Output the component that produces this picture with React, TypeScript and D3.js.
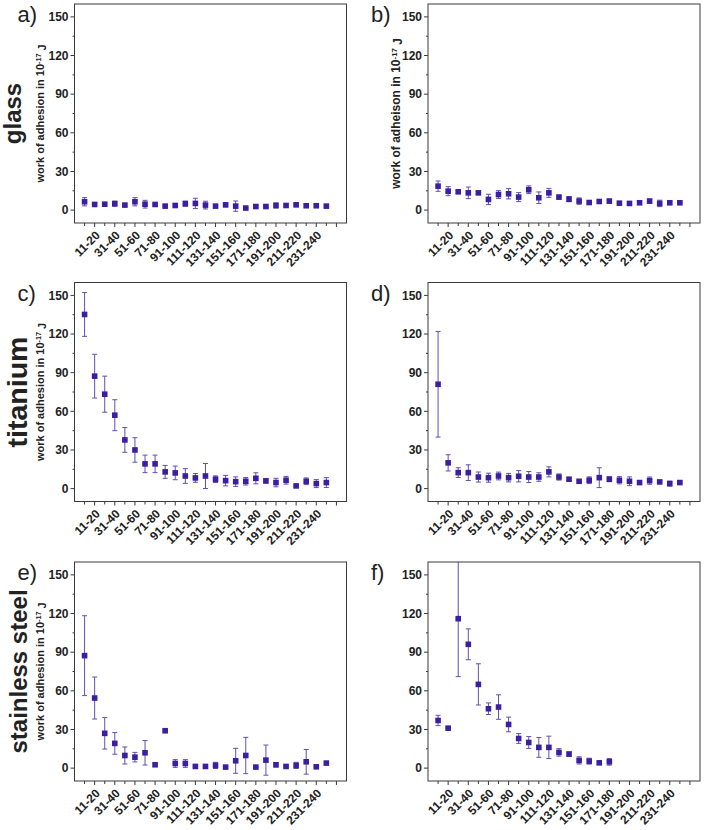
import React from "react";
import * as d3 from "d3";

const categories = [
  "1-10", "11-20", "21-30", "31-40", "41-50", "51-60", "61-70", "71-80", "81-90", "91-100",
  "101-110", "111-120", "121-130", "131-140", "141-150", "151-160", "161-170", "171-180",
  "181-190", "191-200", "201-210", "211-220", "221-230", "231-240", "241-250",
];
const yTicks = [0, 30, 60, 90, 120, 150];
const yMinorTicks = [15, 45, 75, 105, 135];

const glassVal = [6.5, 4.4, 4.6, 5.0, 3.9, 6.5, 4.6, 4.4, 3.1, 3.6, 5.0, 5.2, 3.9, 3.1, 4.1, 3.1, 1.6, 2.8, 2.8, 3.6, 3.6, 4.1, 3.4, 3.4, 3.1];
const glassErr = [3.2, 1, 1.2, 2, 1, 3.2, 3, 1, 0.8, 1, 2, 4, 3, 1, 1.5, 4, 0.5, 0.8, 0.8, 2, 1, 1, 1, 1, 1];

const glassBVal = [18.6, 14.7, 14.2, 13.4, 13.4, 8.3, 12.1, 12.7, 10.1, 15.8, 9.6, 13.4, 10.1, 8.5, 7.0, 5.9, 6.7, 7.0, 5.4, 5.2, 5.7, 7.0, 5.2, 5.7, 5.7];
const glassBErr = [4, 3.5, 1, 4.5, 1, 4, 3, 4, 3.5, 3, 4.5, 3.5, 1.5, 2, 2.5, 1, 1, 1.5, 1, 1, 1, 1.5, 2.5, 1, 1];

const titanVal = [135.2, 87.3, 73.3, 57, 37.8, 30, 19.2, 19.2, 13, 12.2, 9.8, 8.3, 9.8, 7.3, 6.2, 5.4, 5.7, 8, 6, 4.7, 6.5, 2.1, 5.7, 3.9, 4.7];
const titanErr = [17, 17, 14, 12, 9.6, 9.5, 6.8, 6.8, 5, 5.3, 5.7, 3.4, 9.7, 2.6, 4.1, 3.7, 2.9, 4.3, 1.7, 3.3, 3, 0.8, 2.6, 3.1, 3.8];

const titanBVal = [81, 20, 12.4, 12.4, 9, 8.5, 9.8, 8.5, 9.6, 9, 9, 13, 9, 7.3, 5.7, 6.5, 8.5, 7.3, 6.5, 5.7, 4.7, 6.2, 5.2, 3.9, 4.7];
const titanBErr = [41, 6.3, 3.8, 6.1, 3.9, 3.5, 3, 3.3, 4.4, 4.3, 3.3, 3.9, 2.4, 1, 0.8, 2.6, 7.7, 1.9, 2.8, 3.4, 0.8, 2.8, 1, 1.9, 0.8];

const steelVal = [87.3, 54.4, 27, 19.2, 9.8, 8.5, 11.9, 2.6, 29, 3.6, 3.6, 1.3, 1.3, 2.1, 0.8, 5.7, 9.8, 0.8, 6.2, 2.6, 1.3, 2.1, 4.9, 1.0, 3.9];
const steelErr = [31, 16.3, 12.2, 8.4, 6.6, 3.7, 9.5, 1, 1, 3, 3, 0.5, 0.5, 2.4, 0.5, 9.7, 14.1, 0.5, 11.7, 1.7, 0.5, 2.4, 9.6, 0.5, 0.8];

const steelBVal = [37, 31, 116, 96.1, 65, 46.1, 47.4, 33.9, 23, 19.9, 16.1, 16.1, 12.2, 10.9, 6, 5.4, 4.1, 4.9];
const steelBErr = [4, 1, 45, 12, 16, 4.5, 9.5, 5.7, 3.8, 4.6, 7.7, 8.7, 2.9, 1.7, 2.8, 2.3, 0.8, 2.6];

const materials = ["glass", "titanium", "stainless steel"];

const FONT = "'Liberation Sans', Arial, sans-serif";
const MARK = "#3b1fa0";
const ERR = "#6050b2";
const FRAME = "#3a3a3a";

type PanelProps = {
  id: string;
  letter: string;
  left: number;
  top: number;
  vals: number[];
  errs: number[];
  title?: string;
  titleSize?: number;
  titleX?: number;
};

const PW = 272;
const PH = 219;

function Panel({ id, letter, left, top, vals, errs, title, titleSize = 11, titleX = 0 }: PanelProps) {
  const x = d3.scaleLinear().domain([0, 27]).range([left, left + PW]);
  const y = d3.scaleLinear().domain([-10, 160]).range([top + PH, top]);
  const bottom = top + PH;
  const xTickIdx = d3.range(1, 27);
  const cy = (top + bottom) / 2;
  return (
    <g>
      <defs>
        <clipPath id={`clip-${id}`}>
          <rect x={left} y={top} width={PW} height={PH} />
        </clipPath>
      </defs>
      <text x={left - 57} y={top + 18} fontFamily={FONT} fontSize={22} fill="#222">
        {letter}
      </text>
      {yTicks.map((t) => (
        <g key={`yt${t}`}>
          <line x1={left - 4} x2={left} y1={y(t)} y2={y(t)} stroke={FRAME} strokeWidth={1} />
          <text x={left - 6} y={y(t)} dy="0.36em" textAnchor="end" fontFamily={FONT} fontWeight="bold" fontSize={12} fill="#222">
            {t}
          </text>
        </g>
      ))}
      {yMinorTicks.map((t) => (
        <line key={`ym${t}`} x1={left - 2} x2={left} y1={y(t)} y2={y(t)} stroke={FRAME} strokeWidth={1} />
      ))}
      {xTickIdx.map((i) => (
        <line key={`xt${i}`} x1={x(i)} x2={x(i)} y1={bottom} y2={bottom + (i % 2 === 0 ? 4 : 3)} stroke={FRAME} strokeWidth={1} />
      ))}
      {categories.map((c, i) =>
        i % 2 === 1 ? (
          <text
            key={`xl${i}`}
            transform={`translate(${x(i + 1) + 6},${bottom + 13}) rotate(-45)`}
            textAnchor="end"
            fontFamily={FONT}
            fontWeight="bold"
            fontSize={12}
            fill="#222"
          >
            {c}
          </text>
        ) : null
      )}
      <g clipPath={`url(#clip-${id})`}>
        {vals.map((v, i) => {
          const cx = x(i + 1);
          const e = errs[i];
          return (
            <g key={`p${i}`}>
              <line x1={cx} x2={cx} y1={y(v - e)} y2={y(v + e)} stroke={ERR} strokeWidth={1} />
              <line x1={cx - 2.5} x2={cx + 2.5} y1={y(v - e)} y2={y(v - e)} stroke={ERR} strokeWidth={1} />
              <line x1={cx - 2.5} x2={cx + 2.5} y1={y(v + e)} y2={y(v + e)} stroke={ERR} strokeWidth={1} />
              <rect x={cx - 2.8} y={y(v) - 2.8} width={5.6} height={5.6} fill={MARK} />
            </g>
          );
        })}
      </g>
      <rect x={left} y={top} width={PW} height={PH} fill="none" stroke={FRAME} strokeWidth={1} />
      {title ? (
        <text
          transform={`translate(${titleX},${cy}) rotate(-90)`}
          textAnchor="middle"
          fontFamily={FONT}
          fontWeight="bold"
          fontSize={titleSize}
          fill="#222"
        >
          {title}
          <tspan dy="-0.45em" fontSize={titleSize * 0.65}>-17</tspan>
          <tspan dy="0.45em"> J</tspan>
        </text>
      ) : null}
    </g>
  );
}

export default function App() {
  const lefts = [74.5, 428];
  const tops = [4, 282.5, 562];
  const matY = tops.map((t) => t + PH / 2);
  const matSize = [24, 28.5, 24];
  const matX = [21, 27, 27];
  return (
    <svg width={704} height={830} style={{ position: "absolute", left: 0, top: 0, background: "#fff" }}>
      <Panel id="a" letter="a)" left={lefts[0]} top={tops[0]} vals={glassVal} errs={glassErr} title="work of adhesion in 10" titleSize={11} titleX={44} />
      <Panel id="b" letter="b)" left={lefts[1]} top={tops[0]} vals={glassBVal} errs={glassBErr} title="work of adheison in 10" titleSize={12} titleX={400} />
      <Panel id="c" letter="c)" left={lefts[0]} top={tops[1]} vals={titanVal} errs={titanErr} title="work of adhesion in 10" titleSize={11} titleX={44} />
      <Panel id="d" letter="d)" left={lefts[1]} top={tops[1]} vals={titanBVal} errs={titanBErr} />
      <Panel id="e" letter="e)" left={lefts[0]} top={tops[2]} vals={steelVal} errs={steelErr} title="work of adhesion in 10" titleSize={11} titleX={44} />
      <Panel id="f" letter="f)" left={lefts[1]} top={tops[2]} vals={steelBVal} errs={steelBErr} />
      {materials.map((m, i) => (
        <text
          key={m}
          transform={`translate(${matX[i]},${matY[i]}) rotate(-90)`}
          textAnchor="middle"
          fontFamily={FONT}
          fontWeight="bold"
          fontSize={matSize[i]}
          fill="#222"
        >
          {m}
        </text>
      ))}
    </svg>
  );
}
